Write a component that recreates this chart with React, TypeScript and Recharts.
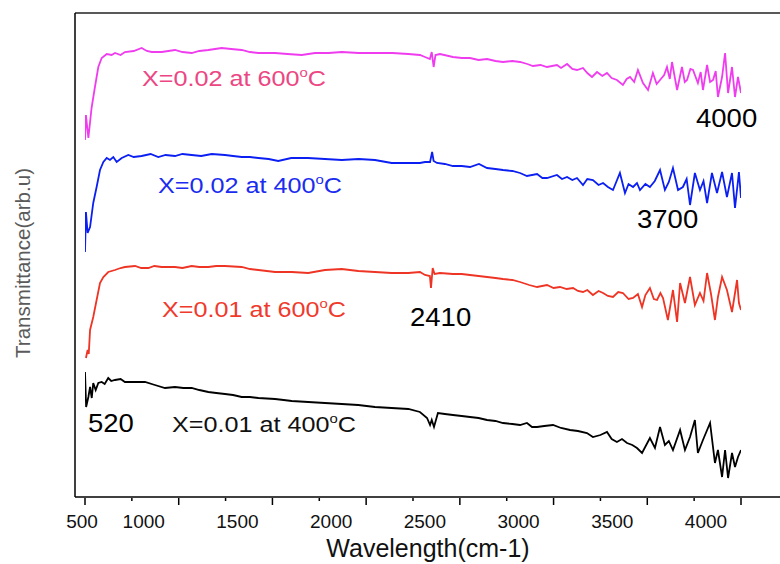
import { LineChart, Line, XAxis, YAxis } from 'recharts';

// [wavenumber, transmittance (arb. u)]
const x02at600 = [
  [500, 35.7], [505, 38.2], [518, 35.9], [535, 38.9], [553, 41.0], [571, 43.0], [589, 43.9], [616, 44.3],
  [642, 44.2], [660, 44.4], [690, 44.2], [713, 44.5], [760, 44.6], [802, 44.9], [830, 44.6], [856, 44.5],
  [909, 44.5], [980, 44.7], [1020, 44.5], [1069, 44.4], [1110, 44.6], [1158, 44.7], [1229, 44.9], [1280, 44.8],
  [1336, 44.7], [1380, 44.5], [1425, 44.4], [1514, 44.4], [1580, 44.3], [1656, 44.2], [1727, 44.4], [1800, 44.4],
  [1870, 44.5], [1960, 44.4], [2047, 44.4], [2140, 44.4], [2225, 44.3], [2287, 44.2], [2314, 44.0], [2340, 43.8],
  [2350, 44.5], [2360, 43.0], [2370, 44.2], [2394, 44.3], [2463, 44.0], [2510, 43.9], [2554, 43.9], [2600, 43.7],
  [2645, 43.8], [2690, 43.6], [2730, 43.5], [2780, 43.6], [2821, 43.5], [2860, 43.3], [2890, 43.1], [2930, 43.2],
  [2965, 43.0], [3018, 43.2], [3040, 42.9], [3072, 43.3], [3100, 42.8], [3125, 42.7], [3157, 42.9], [3180, 42.4],
  [3205, 42.0], [3232, 42.5], [3260, 42.1], [3285, 42.4], [3310, 41.9], [3338, 41.7], [3370, 41.2], [3390, 41.8],
  [3408, 42.0], [3430, 41.5], [3450, 42.7], [3477, 41.4], [3504, 40.7], [3530, 42.4], [3550, 41.3], [3568, 41.7],
  [3590, 42.2], [3605, 43.0], [3620, 41.8], [3632, 43.5], [3659, 40.7], [3685, 43.0], [3700, 41.5], [3712, 41.7],
  [3730, 42.8], [3744, 42.7], [3770, 41.4], [3785, 42.5], [3797, 40.7], [3819, 43.2], [3835, 41.5], [3851, 41.7],
  [3865, 42.6], [3877, 40.0], [3899, 42.0], [3915, 44.4], [3931, 40.4], [3952, 43.0], [3968, 40.0], [3984, 42.0],
  [4000, 40.4],
];

const x02at400 = [
  [500, 24.5], [505, 28.5], [514, 26.4], [527, 27.0], [544, 29.4], [562, 31.0], [580, 32.7], [598, 33.5],
  [616, 33.9], [633, 33.7], [651, 34.0], [669, 33.5], [696, 33.9], [731, 34.2], [760, 34.0], [802, 34.1],
  [850, 34.3], [891, 34.0], [930, 34.2], [980, 34.1], [1020, 34.3], [1069, 34.2], [1120, 34.1], [1176, 34.3],
  [1247, 34.2], [1290, 34.1], [1336, 34.0], [1380, 34.0], [1425, 33.9], [1480, 33.8], [1531, 33.6], [1600, 33.9],
  [1690, 33.9], [1780, 33.8], [1870, 33.7], [1960, 33.8], [2047, 33.7], [2136, 33.4], [2225, 33.4], [2287, 33.4],
  [2314, 33.5], [2341, 33.5], [2352, 34.5], [2360, 33.6], [2378, 33.4], [2420, 33.3], [2463, 33.1], [2510, 33.1],
  [2554, 33.0], [2602, 33.3], [2645, 32.9], [2690, 32.8], [2730, 32.7], [2780, 32.6], [2821, 32.4], [2858, 32.1],
  [2912, 32.3], [2940, 31.9], [2965, 31.9], [3018, 32.2], [3045, 31.8], [3072, 32.0], [3100, 31.7], [3125, 31.9],
  [3157, 31.2], [3180, 31.8], [3210, 31.7], [3240, 31.2], [3264, 31.4], [3290, 31.0], [3317, 30.7], [3354, 32.4],
  [3381, 30.4], [3400, 31.3], [3424, 31.0], [3445, 31.4], [3461, 30.7], [3490, 31.3], [3514, 31.0], [3540, 31.6],
  [3568, 32.7], [3594, 30.7], [3615, 31.5], [3637, 32.9], [3664, 30.7], [3690, 31.0], [3710, 31.8], [3728, 29.2],
  [3754, 32.4], [3781, 30.7], [3800, 31.6], [3819, 29.4], [3845, 32.4], [3872, 30.4], [3899, 32.5], [3925, 30.0],
  [3952, 32.4], [3968, 28.9], [3989, 32.5], [4000, 29.9],
];

const x01at600 = [
  [505, 13.9], [514, 14.7], [520, 14.3], [527, 16.7], [544, 18.0], [562, 19.7], [580, 21.4], [598, 22.0],
  [624, 22.5], [660, 22.7], [690, 22.9], [713, 23.0], [767, 23.1], [800, 22.9], [838, 22.9], [870, 23.1],
  [909, 23.0], [980, 23.0], [1020, 22.9], [1069, 23.1], [1110, 23.0], [1158, 23.0], [1200, 23.1], [1247, 23.1],
  [1336, 23.0], [1380, 22.8], [1425, 22.7], [1470, 22.6], [1514, 22.5], [1603, 22.5], [1691, 22.4], [1780, 22.7],
  [1870, 22.8], [1958, 22.6], [2047, 22.5], [2136, 22.4], [2225, 22.4], [2287, 22.5], [2314, 22.2], [2340, 22.1],
  [2346, 20.9], [2355, 22.9], [2365, 22.3], [2394, 22.4], [2463, 22.3], [2510, 22.3], [2554, 22.2], [2600, 22.1],
  [2645, 22.0], [2690, 21.9], [2730, 21.8], [2780, 21.7], [2821, 21.5], [2870, 21.2], [2912, 21.0], [2965, 21.2],
  [3000, 20.9], [3034, 21.0], [3070, 20.8], [3104, 20.9], [3130, 20.6], [3157, 20.5], [3180, 20.7], [3210, 20.2],
  [3240, 20.6], [3264, 20.4], [3290, 20.1], [3317, 20.0], [3345, 20.5], [3370, 20.4], [3400, 19.8], [3424, 19.9],
  [3450, 20.3], [3472, 19.0], [3490, 20.2], [3514, 20.9], [3535, 19.8], [3552, 19.7], [3570, 20.4], [3584, 19.9],
  [3610, 17.7], [3637, 20.7], [3659, 17.5], [3675, 21.4], [3701, 19.4], [3728, 22.0], [3754, 19.2], [3781, 20.4],
  [3800, 19.6], [3819, 22.4], [3840, 20.3], [3861, 17.7], [3877, 20.0], [3899, 22.0], [3925, 20.7], [3952, 18.5],
  [3979, 21.7], [3989, 19.4], [4000, 18.7],
];

const x01at400 = [
  [500, 12.5], [506, 9.0], [518, 10.0], [527, 11.0], [536, 9.9], [544, 11.4], [557, 10.7], [571, 11.4],
  [589, 11.5], [605, 11.3], [624, 11.9], [640, 11.6], [660, 11.7], [690, 11.8], [713, 11.5], [767, 11.5],
  [820, 11.5], [873, 11.2], [927, 10.9], [980, 11.0], [1025, 10.9], [1069, 10.9], [1110, 10.7], [1158, 10.5],
  [1200, 10.4], [1247, 10.3], [1290, 10.2], [1336, 10.0], [1380, 10.0], [1425, 9.9], [1514, 9.8], [1560, 9.7],
  [1603, 9.6], [1691, 9.5], [1780, 9.4], [1870, 9.3], [1958, 9.2], [2047, 9.0], [2136, 8.9], [2225, 8.8],
  [2287, 8.5], [2325, 7.9], [2341, 7.2], [2350, 7.7], [2362, 7.0], [2383, 8.4], [2420, 8.3], [2463, 8.2],
  [2510, 8.1], [2554, 8.0], [2600, 7.9], [2645, 7.7], [2690, 7.6], [2730, 7.4], [2780, 7.3], [2821, 7.2],
  [2858, 7.4], [2885, 7.0], [2912, 7.0], [2950, 7.1], [2997, 7.2], [3040, 6.9], [3088, 6.7], [3130, 6.6],
  [3178, 6.4], [3210, 6.0], [3250, 6.2], [3285, 6.5], [3310, 5.8], [3338, 5.5], [3365, 5.8], [3392, 5.4],
  [3420, 5.2], [3445, 4.9], [3472, 4.4], [3514, 5.9], [3541, 4.9], [3568, 7.0], [3594, 5.2], [3615, 5.6],
  [3637, 4.7], [3675, 6.7], [3701, 4.7], [3728, 6.0], [3754, 7.7], [3770, 4.4], [3797, 5.7], [3835, 7.4],
  [3861, 3.4], [3877, 4.7], [3899, 2.0], [3915, 4.7], [3931, 1.9], [3952, 4.4], [3968, 3.0], [3984, 4.0],
  [4000, 4.7],
];

const xTicks = [500, 750, 1000, 1250, 1500, 1750, 2000, 2250, 2500, 2750, 3000, 3250, 3500, 3750, 4000];

const font = 'Liberation Sans, Arial, sans-serif';

const toRows = (pairs: number[][]) => pairs.map(([w, t]) => ({ w, t }));

function AxisTick({ x, y, payload }: any) {
  const v = payload.value;
  const major = v % 500 === 0;
  // labels in the original sit left of their tick marks (except 500)
  const dx = v === 500 ? -3 : -35;
  return (
    <g>
      <line x1={x} x2={x} y1={y + 1} y2={y + (major ? 8 : 4)} stroke="#000" strokeWidth={1.5} />
      {major && (
        <text x={x + dx} y={y + 31} textAnchor="middle" fontSize={19} fontFamily={font} fill="#111">
          {v}
        </text>
      )}
    </g>
  );
}

function SeriesLabel({ x, y, color, text }: any) {
  return (
    <text x={x} y={y} fontSize={22} fontFamily={font} fill={color} textLength={184} lengthAdjust="spacingAndGlyphs">
      {text}
      <tspan fontSize={13} dy={-9}>o</tspan>
      <tspan dy={9}>C</tspan>
    </text>
  );
}

function Note({ x, y, text }: any) {
  return (
    <text x={x} y={y} fontSize={26} fontFamily={font} fill="#000" textLength={text.length * 15.3} lengthAdjust="spacingAndGlyphs">
      {text}
    </text>
  );
}

export default function App() {
  return (
    <div style={{ position: 'absolute', left: 0, top: 0, width: 780, height: 564, overflow: 'hidden', background: '#fff' }}>
      <LineChart width={800} height={564} margin={{ top: 12, right: 10, bottom: 7, left: 15 }}>
        <XAxis
          dataKey="w"
          type="number"
          domain={[500, 4000]}
          ticks={xTicks}
          interval={0}
          padding={{ left: 10, right: 49 }}
          height={60}
          tickSize={0}
          tickMargin={0}
          tickLine={false}
          axisLine={{ stroke: '#000', strokeWidth: 1.5 }}
          tick={<AxisTick />}
          allowDataOverflow
        />
        <XAxis
          xAxisId="top"
          orientation="top"
          dataKey="w"
          type="number"
          domain={[500, 4000]}
          padding={{ left: 10, right: 49 }}
          height={1}
          tick={false}
          tickLine={false}
          axisLine={{ stroke: '#222', strokeWidth: 1.5 }}
        />
        <YAxis
          type="number"
          domain={[0, 48.4]}
          width={60}
          tick={false}
          tickLine={false}
          axisLine={{ stroke: '#000', strokeWidth: 1.5 }}
          allowDataOverflow
        />
        <Line data={toRows(x02at600)} dataKey="t" stroke="#ef3cef" strokeWidth={1.8} dot={false} isAnimationActive={false} />
        <Line data={toRows(x02at400)} dataKey="t" stroke="#0b1ff2" strokeWidth={1.8} dot={false} isAnimationActive={false} />
        <Line data={toRows(x01at600)} dataKey="t" stroke="#ee3424" strokeWidth={1.8} dot={false} isAnimationActive={false} />
        <Line data={toRows(x01at400)} dataKey="t" stroke="#000" strokeWidth={1.8} dot={false} isAnimationActive={false} />

        <SeriesLabel x={142} y={86} color="#ec4683" text="X=0.02 at 600" />
        <SeriesLabel x={158} y={193} color="#1a2cf0" text="X=0.02 at 400" />
        <SeriesLabel x={162} y={317} color="#ef3a2c" text="X=0.01 at 600" />
        <SeriesLabel x={172} y={432} color="#111" text="X=0.01 at 400" />

        <Note x={88} y={432} text="520" />
        <Note x={410} y={326} text="2410" />
        <Note x={637} y={228} text="3700" />
        <Note x={696} y={127} text="4000" />

        <text x={428} y={557} textAnchor="middle" fontSize={25} fontFamily={font} fill="#111">
          Wavelength(cm-1)
        </text>
        <text
          x={30}
          y={263}
          transform="rotate(-90 30 263)"
          textAnchor="middle"
          fontSize={20}
          fontFamily={font}
          fill="#5a5a5a"
          textLength={190}
          lengthAdjust="spacingAndGlyphs"
        >
          Transmittance(arb.u)
        </text>
      </LineChart>
    </div>
  );
}
